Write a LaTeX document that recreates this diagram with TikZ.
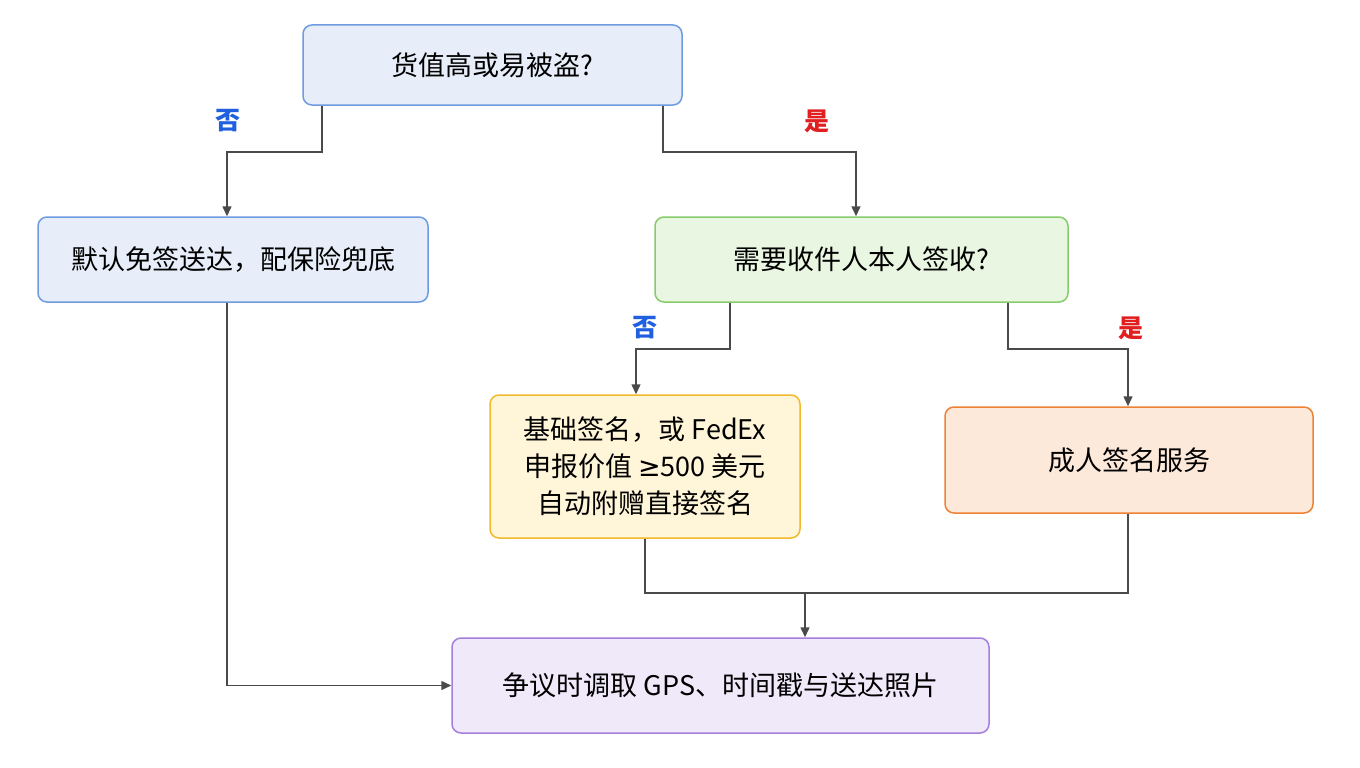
\documentclass[tikz,border=0pt]{standalone}
\usepackage{fontspec}
\setmainfont{Noto Sans CJK SC}
\newfontfamily\symf{DejaVu Sans}
\usetikzlibrary{arrows.meta}
\definecolor{bF}{HTML}{E7EEF9}\definecolor{bD}{HTML}{6F9BE0}
\definecolor{gF}{HTML}{E9F6E1}\definecolor{gD}{HTML}{86CC6C}
\definecolor{yF}{HTML}{FFF5D8}\definecolor{yD}{HTML}{F1BA2C}
\definecolor{oF}{HTML}{FDE9DA}\definecolor{oD}{HTML}{EE8134}
\definecolor{pF}{HTML}{F0E9FA}\definecolor{pD}{HTML}{A57FDC}
\definecolor{ln}{HTML}{4A4A4A}
\definecolor{no}{HTML}{1F5FE0}\definecolor{yes}{HTML}{E02020}
\begin{document}
\begin{tikzpicture}[x=1pt,y=-1pt,
 box/.style={draw,rounded corners=9pt,line width=1.5pt,align=center,font=\fontsize{27}{37}\selectfont,inner sep=0pt},
 conn/.style={draw=ln,line width=1.5pt},
 arr/.style={conn,-{Triangle[length=10pt,width=9pt]}},
 lab/.style={font=\fontsize{25}{28}\selectfont\bfseries}]
\useasboundingbox[fill=white] (0,0) rectangle (1360,768);
\node[box,fill=bF,draw=bD,minimum width=379pt,minimum height=80pt] (top) at (492.5,65) {货值高或易被盗?};
\node[box,fill=bF,draw=bD,minimum width=390pt,minimum height=85pt] (left) at (233,259.5) {默认免签送达，配保险兜底};
\node[box,fill=gF,draw=gD,minimum width=413pt,minimum height=85pt] (mid) at (861.5,259.5) {需要收件人本人签收?};
\node[box,fill=yF,draw=yD,minimum width=310pt,minimum height=143pt] (yel) at (645,466.5) {基础签名，或 FedEx\\申报价值 {\symf ≥}500 美元\\自动附赠直接签名};
\node[box,fill=oF,draw=oD,minimum width=368pt,minimum height=106pt] (ora) at (1129,460) {成人签名服务};
\node[box,fill=pF,draw=pD,minimum width=537pt,minimum height=95pt] (pur) at (720.5,685.5) {争议时调取 GPS、时间戳与送达照片};
\coordinate (j) at (805,593);
\draw[arr] (top.south -| 322,0) |- (227,152) -- (left.north -| 227,0);
\draw[arr] (top.south -| 663,0) |- (856,152) -- (mid.north -| 856,0);
\draw[arr] (mid.south -| 730,0) |- (636,349) -- (yel.north -| 636,0);
\draw[arr] (mid.south -| 1008,0) |- (1128,349) -- (ora.north -| 1128,0);
\draw[conn] (yel.south) |- (j) -| (ora.south -| 1128,0);
\draw[arr] (j) -- (pur.north -| j);
\draw[arr] (left.south -| 227,0) |- (pur.west);
\node[lab,text=no] (n1) at (228,121) {否};
\node[lab,text=yes] (y1) at (817,121) {是};
\node[lab,text=no] (n2) at (645,328) {否};
\node[lab,text=yes] (y2) at (1131,328) {是};
\end{tikzpicture}
\end{document}
